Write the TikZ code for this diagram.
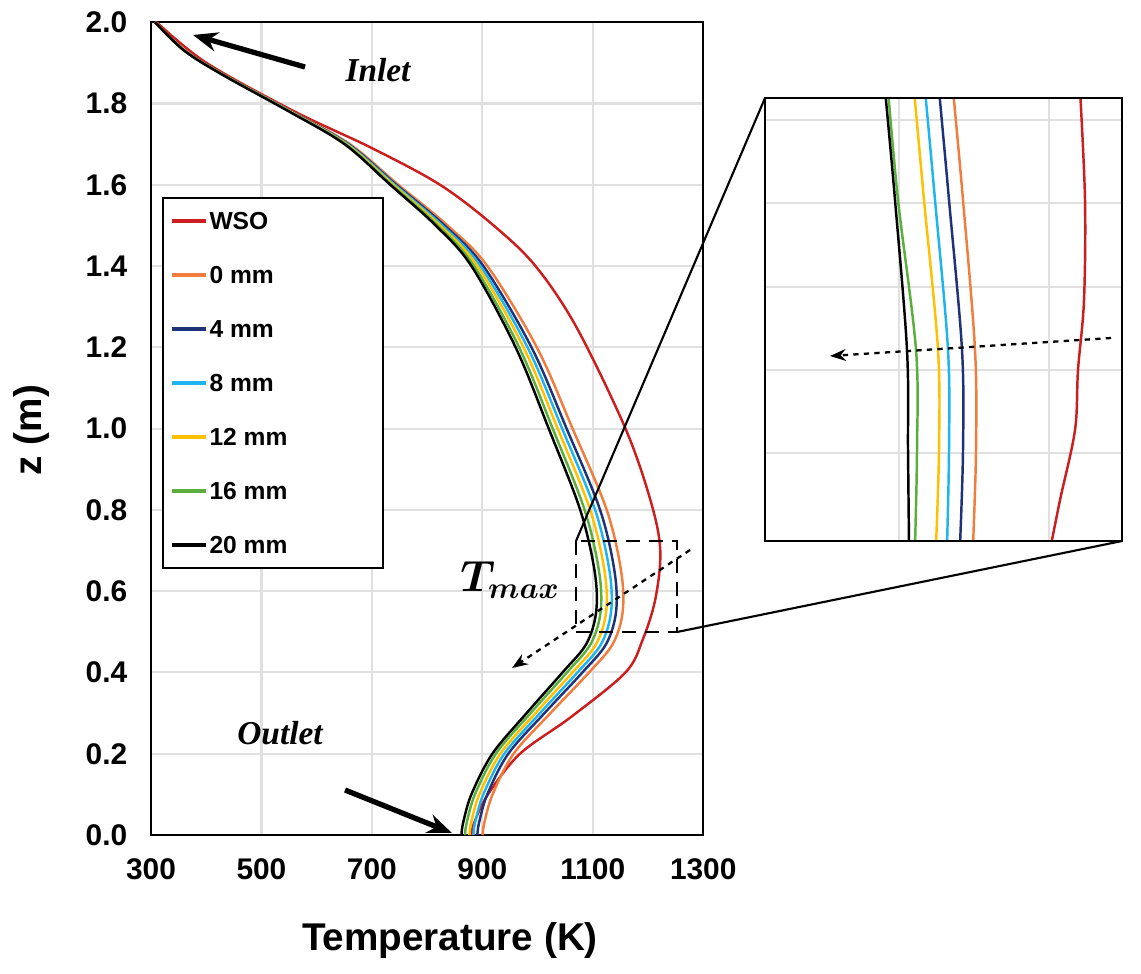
\documentclass[tikz,border=0pt]{standalone}
\usepackage{fontspec}
\setmainfont{Liberation Sans}
\newfontfamily\serifbi{Liberation Serif}
\usepackage{bm}
\usetikzlibrary{arrows.meta}
\usetikzlibrary{positioning}
\definecolor{WSOcol}{RGB}{204,30,30}
\definecolor{c0}{RGB}{240,125,60}
\definecolor{c4}{RGB}{30,50,120}
\definecolor{c8}{RGB}{30,180,240}
\definecolor{c12}{RGB}{255,192,0}
\definecolor{c16}{RGB}{90,175,60}
\definecolor{c20}{RGB}{0,0,0}
\tikzstyle{grid}=[draw=black!12, line width=1.2pt]
\tikzstyle{frame}=[draw=black, line width=1.3pt]
\tikzstyle{tick}=[font=\fontsize{17}{17}\selectfont\bfseries]
\tikzstyle{leg}=[font=\fontsize{14}{14}\selectfont\bfseries, anchor=west, inner sep=1pt]
\tikzstyle{tag}=[font=\fontsize{19}{19}\selectfont\serifbi\bfseries\itshape]
\tikzstyle{curve}=[line width=1.4pt, smooth, tension=0.55]
\newcommand{\blackcurve}[1]{plot coordinates {
  (307,2) (360+0.02*#1,1.93) (430+0.05*#1,1.87) (550+0.1*#1,1.78) (650+0.2*#1,1.70)
  (733+0.3*#1,1.6) (815+0.45*#1,1.5) (880+0.6*#1,1.4) (960+0.8*#1,1.2) (1020+0.9*#1,1.0)
  (1077+#1,0.8) (1103+#1,0.65) (1106+#1,0.55) (1088+#1,0.47) (1045+#1,0.4)
  (980+0.9*#1,0.3) (918+0.8*#1,0.2) (880+0.8*#1,0.1) (865+0.8*#1,0.03) (862+0.8*#1,0)}}
\begin{document}
\begin{tikzpicture}[x=0.02cm, y=-0.02cm, >={Stealth}]
\useasboundingbox (0,0) rectangle (1141,973);
% main plot in data units
\begin{scope}[shift={(151,835)}, x=0.01104cm, y=8.13cm]
  \foreach \T in {500,700,900,1100} \draw[grid] (\T-300,0) -- (\T-300,2);
  \foreach \z in {0.2,0.4,...,1.9} \draw[grid] (0,\z) -- (1000,\z);
  \draw[frame] (0,0) rectangle (1000,2);
  \foreach \T in {300,500,...,1300} \node[tick, below=10pt] (xt\T) at (\T-300,0) {\T};
  \foreach \z in {0.0,0.2,0.4,0.6,0.8,1.0,1.2,1.4,1.6,1.8,2.0}
    \node[tick, left=10pt] at (0,\z) {\z};
  \begin{scope}[xshift=-3.312cm]
  \draw[curve, WSOcol] plot coordinates {(310,2) (400,1.9) (560,1.78) (700,1.69) (823,1.6)
    (920,1.5) (996,1.4) (1070,1.25) (1159,1.0) (1205,0.82) (1222,0.7) (1213,0.58)
    (1190,0.48) (1159,0.4) (1060,0.29) (968,0.2) (910,0.1) (885,0.03) (880,0)};
  \foreach \d/\c in {48/c0,36/c4,27/c8,18/c12,8/c16,0/c20}
    \draw[curve, \c] \blackcurve{\d};
  \end{scope}
\end{scope}
% axis titles
\node[font=\fontsize{22}{22}\selectfont\bfseries] at (450,940) {Temperature (K)};
\node[font=\fontsize{22}{22}\selectfont\bfseries, rotate=90] at (32,430) {z (m)};
% legend
\draw[black, line width=0.8pt, fill=white] (163,198) rectangle (383,568);
\foreach \name/\c [count=\i from 0] in {WSO/WSOcol,0 mm/c0,4 mm/c4,8 mm/c8,12 mm/c12,16 mm/c16,20 mm/c20}{
  \coordinate (l\i) at (172,221+54*\i);
  \draw[\c, line width=2pt] (l\i) -- ++(34,0) node[leg, black] {\name};
}
% annotations
\node[tag] (inlet) at (378,70) {Inlet};
\draw[-{Stealth[length=14pt,width=11pt]}, line width=3pt] (305,67) -- (193,35);
\node[tag] (outlet) at (280,733) {Outlet};
\coordinate (outend) at (452,833);
\draw[-{Stealth[length=14pt,width=11pt]}, line width=3pt] (345,790) -- (outend);
\node (tmax) at (510,580) {\fontsize{24}{24}\selectfont$\bm{T_{max}}$};
% zoom box
\coordinate (bTL) at (576,541);
\coordinate (bBR) at (677,632);
\draw[dashed, line width=1.3pt, dash pattern=on 8pt off 5pt] (bTL) rectangle (bBR);
\draw[-{Stealth[length=9pt]}, dashed, line width=1.3pt] (690,550) -- (512,668);
% inset
\coordinate (iTL) at (765,98);
\coordinate (iBR) at (1122,541);
\draw[line width=1.2pt] (bTL) -- (iTL);
\draw[line width=1.2pt] (bBR) -- (iBR);
\fill[white] (iTL) rectangle (iBR);
\begin{scope}
  \clip (iTL) rectangle (iBR);
  \foreach \y in {120,203,287,370,453} \draw[grid] (765,\y) -- (1122,\y);
  \foreach \x in {899,1049} \draw[grid] (\x,98) -- (\x,541);
  \draw[curve, WSOcol] plot coordinates {(1080,90) (1085,200) (1084,300) (1078,370) (1075,430) (1060,500) (1051,545)};
  \foreach \a/\b/\e/\c in {953/975/973/c0,939/962/960/c4,925/948/947/c8,914/938/936/c12,888/916/915/c16,885/907/909/c20}
    \draw[curve, \c] plot coordinates {(\a,90) (\a+10,200) (\b,350) (\b+1,450) (\e,545)};
\end{scope}
\draw[frame] (iTL) rectangle (iBR);
\draw[-{Stealth[length=9pt]}, dashed, line width=1.3pt] (1111,338) -- (830,356);
\end{tikzpicture}
\end{document}
